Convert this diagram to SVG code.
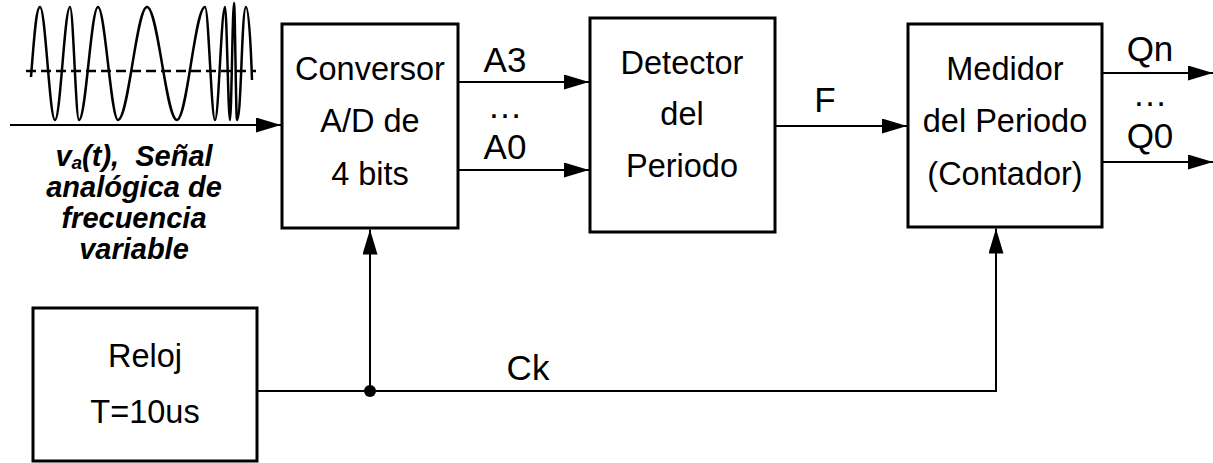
<svg xmlns="http://www.w3.org/2000/svg" width="1213" height="463" viewBox="0 0 1213 463">
<style>
.box{fill:#fff;stroke:#000;stroke-width:3}
.lbl{font-family:"Liberation Sans",Arial,sans-serif;font-size:32.5px;fill:#000;text-anchor:middle}
.pin{font-family:"Liberation Sans",Arial,sans-serif;font-size:35px;fill:#000;text-anchor:middle}
.sig{font-family:"Liberation Sans",Arial,sans-serif;font-size:29px;font-weight:bold;font-style:italic;fill:#000;text-anchor:middle}
.wire{fill:none;stroke:#000;stroke-width:2}
</style>
<defs>
<marker id="arr" markerUnits="userSpaceOnUse" markerWidth="26" markerHeight="16" refX="25" refY="7.5" orient="auto">
<path d="M0,0 L25,7.5 L0,15 Z" fill="#000"/>
</marker>
</defs>
<rect width="1213" height="463" fill="#fff"/>
<g id="waveform">
<line x1="26" y1="71" x2="256" y2="71" stroke="#000" stroke-width="2.5" stroke-dasharray="10,5"/>
<path fill="none" stroke="#000" stroke-width="2.5" d="M31,77 C34,40 36,7 40,7 C45.5,7 49.5,120 55,120 C60.5,120 64.5,7 70,7 C73.3,7 75.7,120 79,120 C86,120 91,7 98,7 C105,7 111,120 118,120 C128.5,120 136.5,7 147,7 C158,7 166,120 177,120 C187,120 195,7 205,7 C208.6,7 211.4,120 215,120 C218.6,120 221.4,7 225,7 C226.8,7 228.2,120 230,120 C231.4,120 232.6,3 234,3 C235.1,3 235.9,120 237,120 C241.4,120 241.6,7 246,7 C249,7 251,50 252,80"/>
</g>
<g id="signal-label">
<text class="sig" x="134" y="166">v<tspan font-size="19" dy="3">a</tspan><tspan dy="-3">(t),&#160; Señal</tspan></text>
<text class="sig" x="134" y="197">analógica de</text>
<text class="sig" x="134" y="228">frecuencia</text>
<text class="sig" x="134" y="259">variable</text>
</g>
<g id="conversor">
<rect class="box" x="282" y="24" width="176" height="204"/>
<text class="lbl" x="370" y="80">Conversor</text>
<text class="lbl" x="370" y="132">A/D de</text>
<text class="lbl" x="370" y="185">4 bits</text>
</g>
<g id="detector">
<rect class="box" x="590" y="18" width="185" height="214"/>
<text class="lbl" x="682" y="74">Detector</text>
<text class="lbl" x="682" y="125">del</text>
<text class="lbl" x="682" y="177">Periodo</text>
</g>
<g id="medidor">
<rect class="box" x="908" y="24" width="194" height="203"/>
<text class="lbl" x="1005" y="80">Medidor</text>
<text class="lbl" x="1005" y="132">del Periodo</text>
<text class="lbl" x="1005" y="185">(Contador)</text>
</g>
<g id="reloj">
<rect class="box" x="33" y="308" width="224" height="153"/>
<text class="lbl" x="145" y="367">Reloj</text>
<text class="lbl" x="145" y="423">T=10us</text>
</g>
<g id="connectors">
<line class="wire" x1="10" y1="125" x2="281" y2="125" marker-end="url(#arr)"/>
<line class="wire" x1="458" y1="82" x2="589" y2="82" marker-end="url(#arr)"/>
<line class="wire" x1="458" y1="170" x2="589" y2="170" marker-end="url(#arr)"/>
<line class="wire" x1="775" y1="126" x2="907" y2="126" marker-end="url(#arr)"/>
<line class="wire" x1="1102" y1="73" x2="1213" y2="73" marker-end="url(#arr)"/>
<line class="wire" x1="1102" y1="162" x2="1213" y2="162" marker-end="url(#arr)"/>
<polyline class="wire" points="257,391 996,391 996,228.5" marker-end="url(#arr)"/>
<line class="wire" x1="370" y1="391" x2="370" y2="229.5" marker-end="url(#arr)"/>
<circle cx="370" cy="391" r="6" fill="#000"/>
<text class="pin" x="505" y="72">A3</text>
<text class="pin" x="505" y="118">…</text>
<text class="pin" x="505" y="159">A0</text>
<text class="pin" x="825" y="112">F</text>
<text class="pin" x="1150" y="61">Qn</text>
<text class="pin" x="1150" y="106">…</text>
<text class="pin" x="1150" y="148">Q0</text>
<text class="pin" x="528" y="380">Ck</text>
</g>
</svg>
